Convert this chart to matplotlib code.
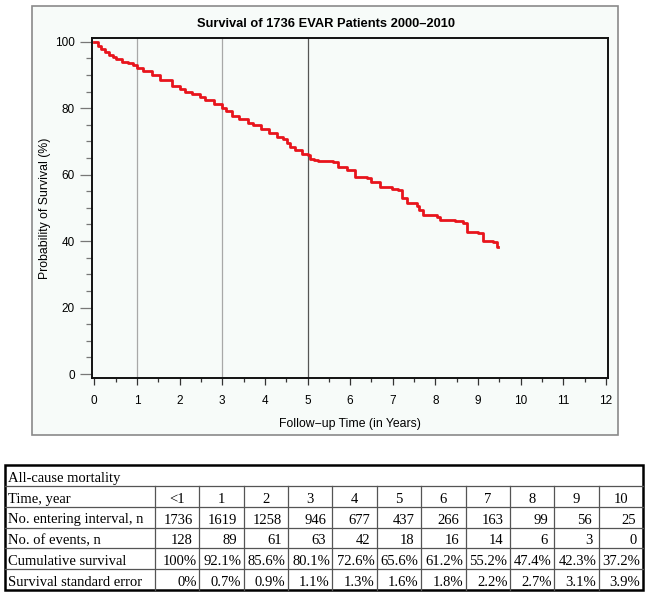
import matplotlib
matplotlib.use("Agg")
import matplotlib.pyplot as plt
from matplotlib.patches import Rectangle
from matplotlib.ticker import MultipleLocator

# Kaplan-Meier curve (years, % surviving)
km_time = [0, 0.08, 0.16, 0.25, 0.35, 0.45, 0.52, 0.65, 0.8, 0.9, 1.0, 1.15, 1.35,
           1.55, 1.82, 2.0, 2.13, 2.3, 2.48, 2.6, 2.8, 3.0, 3.1, 3.22, 3.4, 3.6,
           3.73, 3.9, 4.1, 4.28, 4.43, 4.52, 4.59, 4.7, 4.86, 5.0, 5.06, 5.15, 5.25,
           5.6, 5.72, 5.92, 6.11, 6.39, 6.5, 6.7, 6.97, 7.13, 7.22, 7.33, 7.56, 7.62,
           7.72, 8.03, 8.11, 8.46, 8.65, 8.73, 9.0, 9.12, 9.36, 9.44, 9.47]
km_surv = [100, 98.8, 97.9, 97.0, 96.0, 95.3, 94.7, 94.0, 93.5, 92.9, 92.2, 91.3, 90.0,
           88.6, 86.7, 85.8, 85.0, 84.2, 83.4, 82.5, 81.3, 80.0, 79.0, 77.6, 76.6, 75.4,
           74.9, 73.7, 72.5, 71.4, 70.6, 69.5, 68.2, 67.3, 66.2, 65.9, 64.7, 64.4, 64.1,
           63.9, 62.2, 61.4, 59.4, 58.9, 57.8, 56.4, 55.6, 55.4, 53.0, 51.4, 50.6, 49.5,
           47.8, 47.2, 46.3, 46.1, 45.5, 42.8, 42.3, 40.1, 39.8, 38.1, 38.1]
ref_years = [1, 3, 5]

# life table under the plot
table_title = "All-cause mortality"
row_names = ["Time, year", "No. entering interval, n", "No. of events, n",
             "Cumulative survival", "Survival standard error"]
years = ["<1", "1", "2", "3", "4", "5", "6", "7", "8", "9", "10"]
entering = [1736, 1619, 1258, 946, 677, 437, 266, 163, 99, 56, 25]
events = [128, 89, 61, 63, 42, 18, 16, 14, 6, 3, 0]
cum_surv = [100, 92.1, 85.6, 80.1, 72.6, 65.6, 61.2, 55.2, 47.4, 42.3, 37.2]
std_err = [0, 0.7, 0.9, 1.1, 1.3, 1.6, 1.8, 2.2, 2.7, 3.1, 3.9]

W, H = 649, 599
fig = plt.figure(figsize=(W / 100, H / 100), dpi=100)
fig.patch.set_facecolor("white")
sans = ["Liberation Sans", "DejaVu Sans"]
serif = ["Liberation Serif", "DejaVu Serif"]

# outer panel of the SAS graph
fig.add_artist(Rectangle((32 / W, 1 - 435 / H), 586 / W, 429 / H, transform=fig.transFigure,
                         facecolor="#f7fbf9", edgecolor="#8a8a8a", linewidth=1.2, zorder=0))

ax = fig.add_axes([92.3 / W, 1 - 378.3 / H, 516 / W, 340 / H])
ax.set_facecolor("#f7fbf9")
ax.step(km_time, km_surv, where="post", color="#e8141c", linewidth=2.0, zorder=3)
for yr in ref_years:
    ax.axvline(yr, color="#555555" if yr == 5 else "#a8a8a8", linewidth=0.9, zorder=1)

ax.set_xlim(-0.047, 12.054)
ax.set_ylim(-1.29, 101.02)
ax.xaxis.set_major_locator(MultipleLocator(1))
ax.xaxis.set_minor_locator(MultipleLocator(0.5))
ax.yaxis.set_major_locator(MultipleLocator(20))
ax.yaxis.set_minor_locator(MultipleLocator(5))
ax.tick_params(axis="x", which="major", length=5, width=0.9, color="#333333", labelsize=8.5, pad=7)
ax.tick_params(axis="x", which="minor", length=3, width=0.9, color="#333333")
ax.tick_params(axis="y", which="major", length=8.6, width=0.9, color="#777777", labelsize=8.5, pad=4)
ax.tick_params(axis="y", which="minor", length=4.5, width=0.9, color="#777777")
for t in ax.get_xticklabels() + ax.get_yticklabels():
    t.set_fontfamily(sans)
for s in ax.spines.values():
    s.set_linewidth(1.4)
    s.set_color("#111111")

ax.set_xlabel("Follow\u2212up Time (in Years)", fontsize=8.8, family=sans, va="center")
ax.xaxis.set_label_coords(0.5, -(424 - 378.3) / 340)
ax.set_ylabel("Probability of Survival (%)", fontsize=8.8, family=sans, va="center")
ax.yaxis.set_label_coords(-(92.3 - 45) / 516, 0.5)
fig.text(326 / W, 1 - 24 / H, "Survival of 1736 EVAR Patients 2000\u20132010", ha="center",
         va="center", fontsize=9.3, fontweight="bold", family=sans)

# table drawn in pixel coordinates
tb = fig.add_axes([0, 0, 1, 1], zorder=-1)
tb.set_xlim(0, W)
tb.set_ylim(H, 0)
tb.axis("off")

left, right = 5, 643
label_w = 150
col_w = (right - left - label_w) / len(years)
col_edges = [left + label_w + i * col_w for i in range(len(years) + 1)]
top, bottom = 465, 590
row_h = (bottom - top) / 6
row_edges = [top + i * row_h for i in range(7)]

for y in row_edges[1:-1]:
    tb.plot([left, right], [y, y], color="#555555", linewidth=0.9)
for x in col_edges[:-1]:
    tb.plot([x, x], [row_edges[1], bottom], color="#555555", linewidth=0.9)
tb.add_patch(Rectangle((left, top), right - left, bottom - top, fill=False,
                       edgecolor="black", linewidth=1.8))

fs = 10.5
tb.text(left + 3, row_edges[1] - 4, table_title, fontsize=fs, family=serif, va="baseline")
for r, name in enumerate(row_names):
    tb.text(left + 3, row_edges[r + 2] - 4, name, fontsize=fs, family=serif, va="baseline")

cells = [years, [str(v) for v in entering], [str(v) for v in events],
         ["%g%%" % v for v in cum_surv], ["%g%%" % v for v in std_err]]
for r, vals in enumerate(cells):
    base = row_edges[r + 2] - 4
    for c, txt in enumerate(vals):
        x0, x1 = col_edges[c], col_edges[c + 1]
        if r == 0:
            tb.text((x0 + x1) / 2, base, txt, fontsize=fs, family=serif, ha="center", va="baseline")
        elif r in (1, 2):
            tb.text(x1 - 6.5, base, txt, fontsize=fs, family=serif, ha="right", va="baseline")
        else:
            tb.text(x1 - 2.5, base, txt, fontsize=fs, family=serif, ha="right", va="baseline")

fig.savefig("out.png", dpi=100)
